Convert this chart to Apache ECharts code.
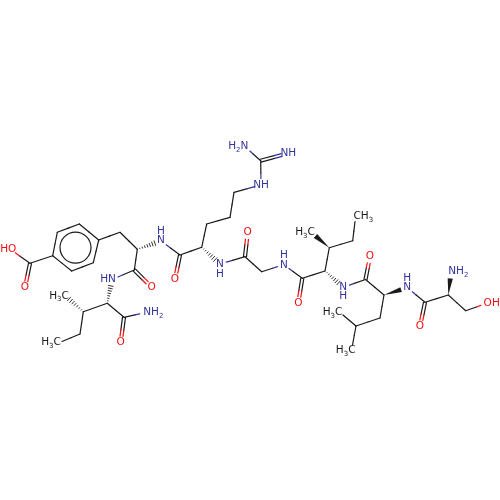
<!DOCTYPE html>
<html><head><meta charset="utf-8">
<style>html,body{margin:0;padding:0;background:#fff}#c{width:500px;height:500px}</style>
<script src="https://cdn.jsdelivr.net/npm/echarts@6/dist/echarts.min.js"></script>
</head><body><div id="c"></div>
<script>
const atomX=[79.3,98.7,93.3,71.7,52.7,57.3,120,137.3,161,134.3,151.7,112,107.3,83.3,69,80,62,124,146,120.7,30,25,10,180,175,201.7,206.7,230,234,261,260.7,288,245,220,245,247.7,261.7,283.7,302.3,298.3,325,329.3,315.5,352.7,355,343.3,365.5,370,384,380,356,343,352.5,407.3,425,420,448.3,451,465.7,487];
const atomY=[224,240,262.7,271,255.7,232.3,232.3,249.3,241,270,287.3,279.5,303.3,311.7,299,334,341.5,317.3,312.5,342.7,263.3,287.7,249,255,279.3,247.3,224,217.3,192.3,185,160.7,153.3,146.7,264,256.7,232.7,271.7,264.7,278.3,303.3,271,247.7,236,240.7,221.5,287.3,279.5,256.7,295,318,326,315,345,287.7,302.3,326.7,295,272,310.7,303.3];
const atomKind="CCCCCCCCNCONCCCCCCNOCOOCOCCCCNCNNNCOCNCOCCCCCNCOCCCCCNCOCNCO".split("");
const bondFrom=[0,1,2,3,4,5,1,6,7,7,9,9,11,12,13,13,15,12,17,17,4,20,20,8,23,23,25,26,27,28,29,30,30,25,33,34,34,36,37,38,38,40,41,41,43,40,45,46,46,48,49,50,50,48,53,54,54,56,56,58];
const bondTo=[1,2,3,4,5,0,6,7,8,9,10,11,12,13,14,15,16,17,18,19,20,21,22,23,24,25,26,27,28,29,30,31,32,33,34,35,36,37,38,39,40,41,42,43,44,45,46,47,48,49,50,51,52,53,54,55,56,57,58,59];
const bondType=["s","s","s","s","s","s","s","s","h","s","d","s","h","s","h","s","s","s","s","d","s","d","s","s","d","s","s","s","s","s","s","d","s","h","s","d","s","s","s","d","s","s","w","s","s","h","s","d","s","s","s","s","s","w","s","d","s","w","s","s"];
// hash bond 11-12 runs from the stereocentre 12 towards N 11
const reversedHash=[12];
const ringAtoms=[0,1,2,3,4,5];
const labelText=["HO","O","HN","N","H","O","H3C","H3C","NH2","O","H2N","NH","NH","O","N","H","O","N","H","O","H3C","CH3","N","H","O","H3C","H3C","N","H","O","NH2","OH"];
const labelX=[8.3,25,108,161,161,151.7,59,51,153.3,120.7,238.3,288.3,261,175,220,220,247.7,284,284,298.3,305,363.3,343.3,343.3,370,332.5,345.7,407.3,407.3,420,458.3,491.7];
const labelY=[249,287.7,279.3,240.7,231,287.3,296,342.7,312.7,342.7,146.7,153.3,185,279.3,264,274,232.7,265,255.3,303.3,232.7,216.7,287.3,296.7,256.7,312.3,350.7,287.7,278.3,326.7,271.7,303.3];
const labelKind="OONNNOCCNONNNONNONNOCCNNOCCNNONO".split("");

const COL={C:"#1a1a1a",N:"#33339c",O:"#f01010"};
const LW=1.2;
function shorten(kind){return kind==="C"?0:6.5;}
function renderBond(p,api){
  const i=api.value(0), t=bondType[i];
  let a=bondFrom[i], b=bondTo[i];
  if(reversedHash.includes(i)){const s=a;a=b;b=s;}
  const P=api.coord([atomX[a],atomY[a]]), Q=api.coord([atomX[b],atomY[b]]);
  const dx=Q[0]-P[0], dy=Q[1]-P[1], L=Math.hypot(dx,dy), ux=dx/L, uy=dy/L, nx=-uy, ny=ux;
  const sa=shorten(atomKind[a]), sb=shorten(atomKind[b]);
  const S=[P[0]+ux*sa,P[1]+uy*sa], E=[Q[0]-ux*sb,Q[1]-uy*sb], M=[(P[0]+Q[0])/2,(P[1]+Q[1])/2];
  const kids=[];
  const seg=(s,e,k,o)=>kids.push({type:"line",shape:{x1:s[0]+nx*o,y1:s[1]+ny*o,x2:e[0]+nx*o,y2:e[1]+ny*o},style:{stroke:COL[k],lineWidth:LW,lineCap:"round"}});
  if(t==="s"){seg(S,M,atomKind[a],0);seg(M,E,atomKind[b],0);}
  else if(t==="d"){[-1.5,1.5].forEach(o=>{seg(S,M,atomKind[a],o);seg(M,E,atomKind[b],o);});}
  else if(t==="w"){
    const w=2.6;
    kids.push({type:"polygon",shape:{points:[S,[E[0]+nx*w,E[1]+ny*w],[E[0]-nx*w,E[1]-ny*w]]},style:{fill:COL.C}});
  } else {
    const n=7, len=Math.hypot(E[0]-S[0],E[1]-S[1]);
    for(let k=1;k<=n;k++){
      const f=k/n, w=0.3+2.5*f, c=[S[0]+ux*len*f,S[1]+uy*len*f];
      kids.push({type:"line",shape:{x1:c[0]+nx*w,y1:c[1]+ny*w,x2:c[0]-nx*w,y2:c[1]-ny*w},style:{stroke:COL.C,lineWidth:0.9}});
    }
  }
  return {type:"group",children:kids};
}
function renderRing(p,api){
  const cx=ringAtoms.reduce((s,i)=>s+atomX[i],0)/ringAtoms.length;
  const cy=ringAtoms.reduce((s,i)=>s+atomY[i],0)/ringAtoms.length;
  const c=api.coord([cx,cy]);
  return {type:"circle",shape:{cx:c[0],cy:c[1],r:15.5},style:{fill:"none",stroke:COL.C,lineWidth:LW}};
}
function renderLabel(p,api){
  const i=api.value(0), c=api.coord([labelX[i],labelY[i]]), col=COL[labelKind[i]];
  const rich=labelText[i].replace(/\d/g,d=>`{s|${d}}`).replace(/[A-Z]+/g,m=>`{b|${m}}`);
  return {type:"text",x:c[0],y:c[1],style:{text:rich,align:"center",verticalAlign:"middle",
    rich:{b:{fontFamily:"DejaVu Sans",fontSize:10.5,fill:col,lineHeight:14,verticalAlign:"middle"},
          s:{fontFamily:"DejaVu Sans",fontSize:7,fill:col,lineHeight:14,padding:[7,0,0,0],verticalAlign:"bottom"}}}};
}
const chart=echarts.init(document.getElementById("c"),null,{renderer:"canvas"});
const idx=n=>Array.from({length:n},(_,i)=>[i]);
chart.setOption({
  animation:false,backgroundColor:"#fff",
  grid:{left:0,right:0,top:0,bottom:0},
  xAxis:{type:"value",min:0,max:500,show:false},
  yAxis:{type:"value",min:0,max:500,inverse:true,show:false},
  series:[
    {type:"custom",coordinateSystem:"cartesian2d",data:idx(bondFrom.length),renderItem:renderBond,encode:{x:0},silent:true,clip:false},
    {type:"custom",coordinateSystem:"cartesian2d",data:[[0]],renderItem:renderRing,encode:{x:0},silent:true,clip:false},
    {type:"custom",coordinateSystem:"cartesian2d",data:idx(labelText.length),renderItem:renderLabel,encode:{x:0},silent:true,clip:false}
  ]
});
</script></body></html>
